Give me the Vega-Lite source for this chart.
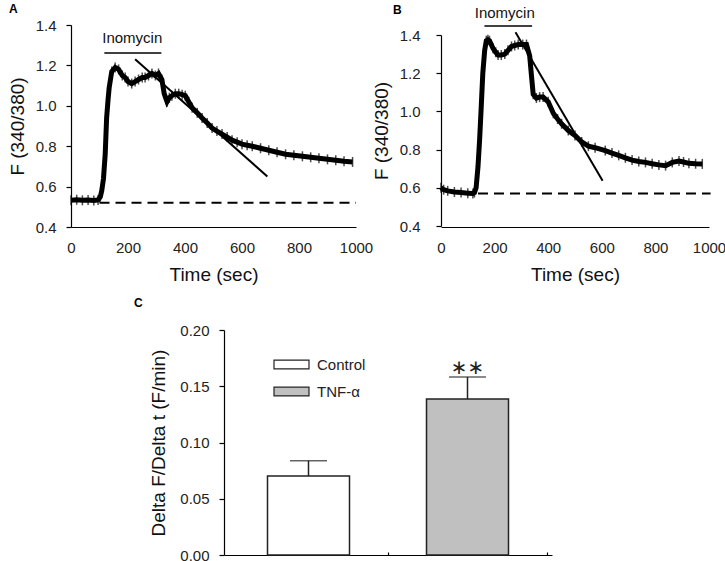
{
  "$schema": "https://vega.github.io/schema/vega-lite/v6.json",
  "padding": {"left": 8, "top": 3, "right": 5, "bottom": 5},
  "background": "white",
  "datasets": {
    "A": [
      {"t": 0, "F": 0.533}, {"t": 20, "F": 0.535}, {"t": 40, "F": 0.532}, {"t": 60, "F": 0.534}, {"t": 80, "F": 0.531}, {"t": 95, "F": 0.534},
      {"t": 103, "F": 0.55}, {"t": 108, "F": 0.58}, {"t": 114, "F": 0.64}, {"t": 120, "F": 0.76}, {"t": 125, "F": 0.94}, {"t": 130, "F": 1.03},
      {"t": 134, "F": 1.09}, {"t": 143, "F": 1.17}, {"t": 155, "F": 1.19}, {"t": 167, "F": 1.18}, {"t": 180, "F": 1.15}, {"t": 190, "F": 1.14},
      {"t": 200, "F": 1.12}, {"t": 213, "F": 1.11}, {"t": 225, "F": 1.12}, {"t": 237, "F": 1.13}, {"t": 250, "F": 1.14}, {"t": 260, "F": 1.14},
      {"t": 272, "F": 1.15}, {"t": 284, "F": 1.16}, {"t": 296, "F": 1.15}, {"t": 307, "F": 1.16}, {"t": 319, "F": 1.13}, {"t": 327, "F": 1.06},
      {"t": 337, "F": 1.02}, {"t": 345, "F": 1.04}, {"t": 354, "F": 1.05}, {"t": 366, "F": 1.06}, {"t": 378, "F": 1.06}, {"t": 390, "F": 1.055},
      {"t": 401, "F": 1.05}, {"t": 413, "F": 1.02}, {"t": 425, "F": 0.99}, {"t": 443, "F": 0.965}, {"t": 460, "F": 0.94}, {"t": 478, "F": 0.915},
      {"t": 495, "F": 0.89}, {"t": 512, "F": 0.875}, {"t": 530, "F": 0.86}, {"t": 548, "F": 0.845}, {"t": 565, "F": 0.83}, {"t": 583, "F": 0.82},
      {"t": 600, "F": 0.81}, {"t": 618, "F": 0.805}, {"t": 636, "F": 0.8}, {"t": 665, "F": 0.79}, {"t": 694, "F": 0.78}, {"t": 723, "F": 0.77},
      {"t": 753, "F": 0.76}, {"t": 782, "F": 0.755}, {"t": 812, "F": 0.75}, {"t": 841, "F": 0.745}, {"t": 870, "F": 0.74}, {"t": 900, "F": 0.735},
      {"t": 929, "F": 0.73}, {"t": 958, "F": 0.725}, {"t": 988, "F": 0.722}
    ],
    "Aslope": [{"t": 225, "F": 1.23}, {"t": 689, "F": 0.65}],
    "Abase": [{"t": 100, "F": 0.52}, {"t": 1000, "F": 0.52}],
    "Abar": [{"t": 117, "F": 1.262}, {"t": 317, "F": 1.262}],
    "Alabel": [{"t": 215, "F": 1.335, "label": "Inomycin"}],
    "B": [
      {"t": 0, "F": 0.6}, {"t": 10, "F": 0.59}, {"t": 25, "F": 0.584}, {"t": 50, "F": 0.578}, {"t": 75, "F": 0.575}, {"t": 100, "F": 0.572},
      {"t": 119, "F": 0.57}, {"t": 125, "F": 0.575}, {"t": 131, "F": 0.6}, {"t": 138, "F": 0.71}, {"t": 144, "F": 0.85}, {"t": 150, "F": 1.02},
      {"t": 156, "F": 1.2}, {"t": 163, "F": 1.32}, {"t": 169, "F": 1.37}, {"t": 175, "F": 1.375}, {"t": 181, "F": 1.37}, {"t": 194, "F": 1.33},
      {"t": 204, "F": 1.31}, {"t": 213, "F": 1.295}, {"t": 225, "F": 1.295}, {"t": 238, "F": 1.3}, {"t": 250, "F": 1.32}, {"t": 263, "F": 1.34},
      {"t": 275, "F": 1.345}, {"t": 288, "F": 1.35}, {"t": 305, "F": 1.35}, {"t": 319, "F": 1.35}, {"t": 331, "F": 1.29}, {"t": 338, "F": 1.18},
      {"t": 344, "F": 1.09}, {"t": 356, "F": 1.07}, {"t": 368, "F": 1.075}, {"t": 381, "F": 1.075}, {"t": 400, "F": 1.05}, {"t": 419, "F": 0.99},
      {"t": 435, "F": 0.96}, {"t": 450, "F": 0.935}, {"t": 475, "F": 0.9}, {"t": 500, "F": 0.874}, {"t": 525, "F": 0.84}, {"t": 550, "F": 0.818},
      {"t": 575, "F": 0.81}, {"t": 613, "F": 0.795}, {"t": 638, "F": 0.782}, {"t": 663, "F": 0.77}, {"t": 688, "F": 0.757}, {"t": 713, "F": 0.745},
      {"t": 738, "F": 0.738}, {"t": 763, "F": 0.733}, {"t": 788, "F": 0.726}, {"t": 813, "F": 0.72}, {"t": 838, "F": 0.716}, {"t": 863, "F": 0.733},
      {"t": 888, "F": 0.74}, {"t": 905, "F": 0.735}, {"t": 925, "F": 0.728}, {"t": 950, "F": 0.726}, {"t": 975, "F": 0.725}
    ],
    "Bslope": [{"t": 278, "F": 1.414}, {"t": 603, "F": 0.637}],
    "Bbase": [{"t": 138, "F": 0.57}, {"t": 1006, "F": 0.57}],
    "Bbar": [{"t": 162, "F": 1.447}, {"t": 340, "F": 1.447}],
    "Blabel": [{"t": 238, "F": 1.515, "label": "Inomycin"}],
    "C": [
      {"group": "Control", "pos": 1, "value": 0.0702, "upper": 0.0838},
      {"group": "TNF-α", "pos": 3, "value": 0.1387, "upper": 0.1582}
    ],
    "Csig": [{"pos": 3, "value": 0.166, "label": "∗∗"}]
  },
  "vconcat": [
    {
      "hconcat": [
        {
          "width": 285,
          "height": 202,
          "title": {"text": "A", "anchor": "start", "frame": "group", "dx": -62, "offset": -10, "baseline": "bottom", "fontSize": 12, "fontWeight": "bold", "font": "Liberation Sans", "color": "#000"},
          "encoding": {
            "x": {"field": "t", "type": "quantitative", "scale": {"domain": [0, 1000], "nice": false},
              "axis": {"values": [0, 200, 400, 600, 800, 1000], "format": "d", "title": "Time (sec)", "ticks": false, "labelPadding": 13, "titlePadding": 10, "labelFlush": false}},
            "y": {"field": "F", "type": "quantitative", "scale": {"domain": [0.4, 1.4], "nice": false, "zero": false},
              "axis": {"values": [0.4, 0.6, 0.8, 1.0, 1.2, 1.4], "format": ".1f", "title": "F (340/380)", "tickSize": 5, "labelPadding": 10, "titlePadding": 8, "labelFlush": false}}
          },
          "layer": [
            {"data": {"name": "Abase"}, "mark": {"type": "line", "color": "#000", "strokeWidth": 2, "strokeDash": [10, 6], "clip": false}},
            {"data": {"name": "A"}, "mark": {"type": "line", "color": "#000", "strokeWidth": 5}},
            {"data": {"name": "A"}, "mark": {"type": "tick", "orient": "vertical", "color": "#000", "size": 10, "thickness": 1.5}},
            {"data": {"name": "Aslope"}, "mark": {"type": "line", "color": "#000", "strokeWidth": 2}},
            {"data": {"name": "Abar"}, "mark": {"type": "line", "color": "#000", "strokeWidth": 1.5, "clip": false}},
            {"data": {"name": "Alabel"}, "mark": {"type": "text", "font": "Liberation Sans", "fontSize": 15, "color": "#111", "baseline": "middle", "clip": false},
              "encoding": {"text": {"field": "label"}}}
          ]
        },
        {
          "width": 268,
          "height": 202,
          "title": {"text": "B", "anchor": "start", "frame": "group", "dx": -48, "offset": -23, "baseline": "bottom", "fontSize": 12, "fontWeight": "bold", "font": "Liberation Sans", "color": "#000"},
          "encoding": {
            "x": {"field": "t", "type": "quantitative", "scale": {"domain": [0, 1000], "nice": false},
              "axis": {"values": [0, 200, 400, 600, 800, 1000], "format": "d", "title": "Time (sec)", "ticks": false, "labelPadding": 13, "titlePadding": 10, "labelFlush": false}},
            "y": {"field": "F", "type": "quantitative", "scale": {"domain": [0.4, 1.4], "nice": false, "zero": false, "range": [201, 10]},
              "axis": {"values": [0.4, 0.6, 0.8, 1.0, 1.2, 1.4], "format": ".1f", "title": "F (340/380)", "tickSize": 5, "labelPadding": 16, "titlePadding": 8, "labelFlush": false}}
          },
          "layer": [
            {"data": {"name": "Bbase"}, "mark": {"type": "line", "color": "#000", "strokeWidth": 2, "strokeDash": [10, 6], "clip": false}},
            {"data": {"name": "B"}, "mark": {"type": "line", "color": "#000", "strokeWidth": 5}},
            {"data": {"name": "B"}, "mark": {"type": "tick", "orient": "vertical", "color": "#000", "size": 10, "thickness": 1.5}},
            {"data": {"name": "Bslope"}, "mark": {"type": "line", "color": "#000", "strokeWidth": 2, "clip": false}},
            {"data": {"name": "Bbar"}, "mark": {"type": "line", "color": "#000", "strokeWidth": 1.5, "clip": false}},
            {"data": {"name": "Blabel"}, "mark": {"type": "text", "font": "Liberation Sans", "fontSize": 15, "color": "#111", "baseline": "middle", "clip": false},
              "encoding": {"text": {"field": "label"}}}
          ]
        }
      ],
      "spacing": 85,
      "bounds": "flush"
    },
    {
      "hconcat": [
        {"width": 1, "height": 1, "data": {"values": []}, "mark": {"type": "point", "opacity": 0}},
        {
          "width": 328,
          "height": 225,
          "title": {"text": "C", "anchor": "start", "frame": "group", "dx": -90, "offset": 1, "baseline": "bottom", "fontSize": 12, "fontWeight": "bold", "font": "Liberation Sans", "color": "#000"},
          "encoding": {
            "x": {"field": "pos", "type": "quantitative", "scale": {"domain": [0, 4], "nice": false},
              "axis": {"values": [1, 2, 3, 4], "labels": false, "title": null, "tickSize": -3}},
            "y": {"field": "value", "type": "quantitative", "scale": {"domain": [0, 0.2], "nice": false},
              "axis": {"values": [0, 0.05, 0.1, 0.15, 0.2], "format": ".2f", "title": "Delta F/Delta t (F/min)", "tickSize": 5, "labelPadding": 10, "titlePadding": 11, "labelFlush": false}}
          },
          "layer": [
            {"data": {"name": "C"}, "mark": {"type": "rule", "color": "#222", "strokeWidth": 1.5},
              "encoding": {"y2": {"field": "upper"}}},
            {"data": {"name": "C"}, "mark": {"type": "tick", "orient": "horizontal", "color": "#222", "size": 37, "thickness": 1.5},
              "encoding": {"y": {"field": "upper", "type": "quantitative"}}},
            {"data": {"name": "C"}, "mark": {"type": "bar", "size": 82, "stroke": "#222", "strokeWidth": 1.5},
              "encoding": {
                "fill": {"field": "group", "type": "nominal", "scale": {"domain": ["Control", "TNF-α"], "range": ["#ffffff", "#c0c0c0"]},
                  "legend": {"title": null, "orient": "none", "legendX": 49, "legendY": 16, "padding": 0, "symbolType": "M-1,-0.25H1V0.25H-1Z", "symbolSize": 1225, "symbolStrokeColor": "#222", "symbolStrokeWidth": 1.2, "labelFontSize": 15, "labelFont": "Liberation Sans", "labelColor": "#222", "labelOffset": 7, "rowPadding": -16}}
              }},
            {"data": {"name": "Csig"}, "mark": {"type": "text", "font": "DejaVu Sans", "fontSize": 20, "color": "#222", "baseline": "middle", "clip": false},
              "encoding": {"text": {"field": "label"}}}
          ]
        }
      ],
      "spacing": 152,
      "bounds": "flush",
      "resolve": {"scale": {"fill": "independent"}, "legend": {"fill": "independent"}}
    }
  ],
  "spacing": 13,
  "bounds": "full",
  "resolve": {"scale": {"fill": "independent"}, "legend": {"fill": "independent"}},
  "config": {
    "view": {"stroke": null},
    "font": "Liberation Sans",
    "axis": {"domainColor": "#000", "tickColor": "#000", "labelColor": "#222", "titleColor": "#111", "labelFont": "Liberation Sans", "titleFont": "Liberation Sans", "labelFontSize": 15, "titleFontSize": 19, "titleFontWeight": "normal", "grid": false, "domainWidth": 1.2, "tickWidth": 1.2}
  }
}
